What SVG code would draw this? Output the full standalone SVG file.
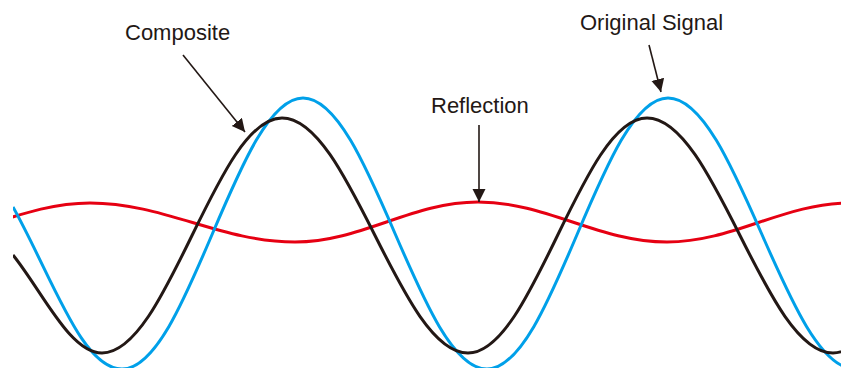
<svg xmlns="http://www.w3.org/2000/svg" width="841" height="368" viewBox="0 0 841 368">
  <style>
    .lbl { font-family: "Liberation Sans", Arial, Helvetica, sans-serif; font-size: 22px; fill: #231815; }
    .wave { fill: none; stroke-width: 3; stroke-linejoin: round; }
    .conn { fill: none; stroke: #231815; stroke-width: 1.6; }
  </style>
  <defs>
    <clipPath id="plot">
      <rect x="13" y="0" width="828" height="368"/>
    </clipPath>
    <marker id="arrow" markerUnits="userSpaceOnUse" markerWidth="14" markerHeight="14" refX="13" refY="6.5" orient="auto">
      <path d="M0,0 L13,6.5 L0,13 Z" fill="#231815"/>
    </marker>
  </defs>
  <rect width="841" height="368" fill="#ffffff"/>

  <g id="waves" clip-path="url(#plot)">
    <path id="reflection-wave" class="wave" stroke="#e60012" stroke-width="2.7"
      d="M-100,242 C-30.8,242 20.8,203 90,203 C164.6,203 220.4,242 295,242 C361.6,242 411.4,202 478,202 C546.8,202 598.2,242 667,242 C733.6,242 783.4,203 850,203"/>
    <path id="original-wave" class="wave" stroke="#00a0e9"
      d="M13,207 C53,279 82,369 122,369 C187.9,369 237.1,98 303,98 C370,98 420,369 487,369 C552.9,369 602.1,98 668,98 C736,98 787,369 855,369"/>
    <path id="composite-wave" class="wave" stroke="#231815"
      d="M13,255 C43,292.5 70,353 102,353 C167.5,353 216.5,118 282,118 C349.7,118 400.3,353 468,353 C533.2,353 581.8,118 647,118 C714.7,118 765.3,353 833,353 C898.5,353 947.5,118 1013,118"/>
  </g>

  <g id="composite-label">
    <text class="lbl" x="125" y="39.5">Composite</text>
  </g>
  <g id="reflection-label">
    <text class="lbl" x="431" y="113">Reflection</text>
  </g>
  <g id="original-label">
    <text class="lbl" x="580" y="30">Original Signal</text>
  </g>

  <g id="connectors">
    <line class="conn" x1="183" y1="55" x2="245" y2="132" marker-end="url(#arrow)"/>
    <line class="conn" x1="479" y1="125" x2="479" y2="202" marker-end="url(#arrow)"/>
    <line class="conn" x1="649" y1="45" x2="661" y2="92" marker-end="url(#arrow)"/>
  </g>
</svg>
